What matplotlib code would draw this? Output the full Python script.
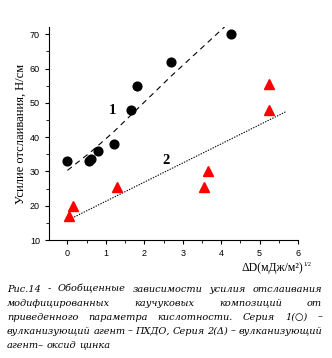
import numpy as np
import matplotlib
matplotlib.use('Agg')
import matplotlib.pyplot as plt
from matplotlib.ticker import MultipleLocator

# series 1 (circles, curing agent PKhDO)
x1 = [0.0, 0.55, 0.6, 0.8, 1.2, 1.65, 1.8, 2.7, 4.25]
y1 = [33, 33, 33.5, 36, 38, 48, 55, 62, 70]
# series 2 (triangles, zinc oxide)
x2 = [0.05, 0.15, 1.3, 3.55, 3.65, 5.25, 5.25]
y2 = [17, 20, 25.5, 25.5, 30, 55.5, 48]
# trend lines
fit1_x = [0.0, 0.6, 1.2, 2.7, 4.26]
fit1_y = [30.3, 35.6, 41.5, 57.8, 73.9]
fit2_x = [0.05, 5.7]
fit2_y = [16.0, 47.5]

ylabel = 'Усилие отслаивания, Н/см'
xlabel = 'ΔD(мДж/м²)'
xlabel_sup = '1/2'
caption = [
    'Рис.14 - Обобщенные зависимости усилия отслаивания',
    'модифицированных каучуковых композиций от',
    'приведенного параметра кислотности. Серия 1(○) –',
    'вулканизующий агент – ПХДО, Серия 2(Δ) – вулканизующий',
    'агент– оксид цинка',
]

fig = plt.figure(figsize=(3.32, 3.58), dpi=100)
ax = fig.add_axes([0.1476, 0.3296, 0.75, 0.594])

ax.plot(fit1_x, fit1_y, color='black', lw=0.8, ls=(0, (5, 4)))
ax.plot(fit2_x, fit2_y, color='black', lw=0.8, ls=(0, (1.2, 1.2)))
ax.plot(x1, y1, 'o', color='black', ms=6.3, mec='black')
ax.plot(x2, y2, '^', color='red', ms=6.5, mec='red')

ax.text(1.18, 47.8, '1', family='Liberation Serif', weight='bold', fontsize=10.5,
        ha='center', va='center')
ax.text(2.56, 33.3, '2', family='Liberation Serif', weight='bold', fontsize=10.5,
        ha='center', va='center')

ax.set_xlim(-0.48, 6)
ax.set_ylim(10, 72)
ax.xaxis.set_major_locator(MultipleLocator(1))
ax.xaxis.set_minor_locator(MultipleLocator(0.5))
ax.yaxis.set_major_locator(MultipleLocator(10))
ax.yaxis.set_minor_locator(MultipleLocator(5))
ax.spines['top'].set_visible(False)
ax.spines['right'].set_visible(False)
ax.tick_params(which='major', direction='out', length=3, width=0.8, labelsize=6.5)
ax.tick_params(which='minor', direction='out', length=2, width=0.6)
for lab in ax.get_xticklabels() + ax.get_yticklabels():
    lab.set_family('Liberation Sans')

ax.set_ylabel(ylabel, family='Liberation Serif', fontsize=9, labelpad=2)

fig.canvas.draw()
r = fig.canvas.get_renderer()

# x axis label at lower right, with a small 1/2 superscript
xl = fig.text(241 / 332, 1 - 268 / 358, xlabel, family='Liberation Serif',
              fontsize=8.5, ha='left', va='center')
xl_w = xl.get_window_extent(r).width
fig.text((241 + xl_w + 0.5) / 332, 1 - 264 / 358, xlabel_sup,
         family='Liberation Serif', fontsize=4.5, ha='left', va='center')

# justified caption
left, right = 7, 322
line_y = [289, 303, 317, 331, 345]


def place_words(fs):
    out = []
    for line, yy in zip(caption, line_y):
        ts = [fig.text(0, 1 - yy / 358, w, family='DejaVu Serif', style='italic',
                       fontsize=fs, va='center') for w in line.split(' ')]
        out.append(ts)
    return out


fs = 9.0
lines = place_words(fs)
need = sum(t.get_window_extent(r).width for t in lines[3]) + 3 * (len(lines[3]) - 1)
if need > right - left:
    for ts in lines:
        for t in ts:
            t.remove()
    fs = fs * (right - left) / need
    lines = place_words(fs)

for i, ts in enumerate(lines):
    widths = [t.get_window_extent(r).width for t in ts]
    if i == len(lines) - 1:
        gap = 3.0
    else:
        gap = (right - left - sum(widths)) / (len(ts) - 1)
    x = left
    for t, w in zip(ts, widths):
        t.set_x(x / 332)
        x += w + gap

fig.savefig('out.png', dpi=100)
